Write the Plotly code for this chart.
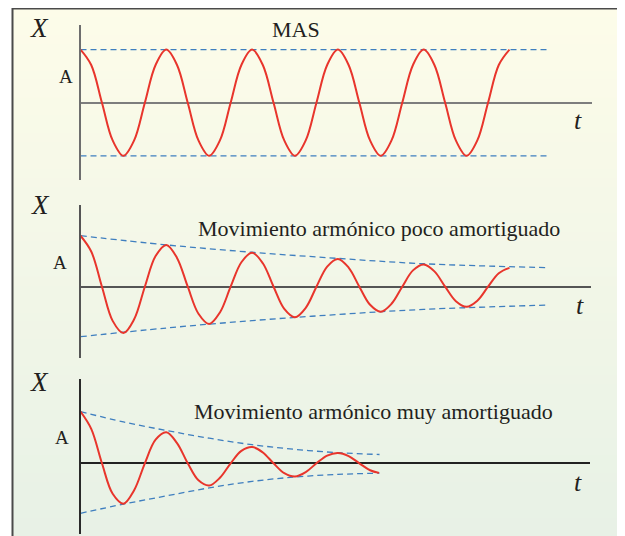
import plotly.graph_objects as go

# The page body has an 8px margin, so the figure is placed at (8, 8) in the window.
PAGE_OFF = 8
W, H = 617, 528

# ---------------- data (t in periods, X in units of A) ----------------
T_MAS = [0, 0.125, 0.25, 0.375, 0.5, 0.625, 0.75, 0.875,
         1, 1.125, 1.25, 1.375, 1.5, 1.625, 1.75, 1.875,
         2, 2.125, 2.25, 2.375, 2.5, 2.625, 2.75, 2.875,
         3, 3.125, 3.25, 3.375, 3.5, 3.625, 3.75, 3.875,
         4, 4.125, 4.25, 4.375, 4.5, 4.625, 4.75, 4.875, 5]
X_MAS = [1, 0.71, 0, -0.71, -1, -0.71, 0, 0.71,
         1, 0.71, 0, -0.71, -1, -0.71, 0, 0.71,
         1, 0.71, 0, -0.71, -1, -0.71, 0, 0.71,
         1, 0.71, 0, -0.71, -1, -0.71, 0, 0.71,
         1, 0.71, 0, -0.71, -1, -0.71, 0, 0.71, 1]
ENV_MAS_T = [0, 5.455]
ENV_MAS_UP = [1, 1]
ENV_MAS_LO = [-1, -1]

T_POCO = T_MAS
X_POCO = [1.0, 0.69, 0, -0.67, -0.91, -0.64, 0, 0.60,
          0.82, 0.565, 0, -0.53, -0.73, -0.505, 0, 0.48,
          0.665, 0.46, 0, -0.435, -0.60, -0.415, 0, 0.395,
          0.545, 0.375, 0, -0.355, -0.49, -0.335, 0, 0.32,
          0.435, 0.30, 0, -0.285, -0.395, -0.275, 0, 0.265, 0.37]
ENV_POCO_T = [0, 1, 2, 3, 4, 5.455]
ENV_POCO_UP = [1.0, 0.82, 0.675, 0.555, 0.45, 0.373]
ENV_POCO_LO = [-0.98, -0.81, -0.665, -0.545, -0.445, -0.36]

T_MUY = [0, 0.125, 0.25, 0.375, 0.5, 0.625, 0.75, 0.875,
         1, 1.125, 1.25, 1.375, 1.5, 1.625, 1.75, 1.875,
         2, 2.125, 2.25, 2.375, 2.5, 2.625, 2.75, 2.875,
         3, 3.125, 3.25, 3.375, 3.48]
X_MUY = [1.0, 0.665, 0, -0.59, -0.78, -0.52, 0, 0.456,
         0.60, 0.39, 0, -0.33, -0.43, -0.28, 0, 0.24,
         0.315, 0.21, 0, -0.19, -0.255, -0.17, 0, 0.15,
         0.20, 0.14, 0, -0.135, -0.185]
ENV_MUY_T = [0, 0.5, 1, 1.5, 2, 2.5, 3, 3.485]
ENV_MUY_UP = [1.0, 0.80, 0.635, 0.485, 0.36, 0.27, 0.205, 0.17]
ENV_MUY_LO = [-0.967, -0.79, -0.63, -0.475, -0.35, -0.265, -0.215, -0.19]

TITLES = ["MAS", "Movimiento armónico poco amortiguado",
          "Movimiento armónico muy amortiguado"]


# ---------------- layout geometry (window pixels) ----------------
def fx(px):
    return (px - PAGE_OFF) / W


def fy(py):
    return 1 - (py - PAGE_OFF) / H


PERIOD_PX = 85.8
ORIGIN_X = 80.5
panels = [
    dict(t=T_MAS, x=X_MAS, et=ENV_MAS_T, eu=ENV_MAS_UP, el=ENV_MAS_LO,
         top=25, bottom=180, zero=102.7, amp=53.15, right=592,
         axcol="#6e6e6e", zcol="#7d7d7d",
         X=(39, 28), A=(66, 77), title=(296, 30), tt=(578, 120)),
    dict(t=T_POCO, x=X_POCO, et=ENV_POCO_T, eu=ENV_POCO_UP, el=ENV_POCO_LO,
         top=205, bottom=358, zero=286.7, amp=51, right=591,
         axcol="#555555", zcol="#555555",
         X=(40, 205), A=(60, 263), title=(379, 228), tt=(580, 305)),
    dict(t=T_MUY, x=X_MUY, et=ENV_MUY_T, eu=ENV_MUY_UP, el=ENV_MUY_LO,
         top=379, bottom=534, zero=463.3, amp=51.7, right=590,
         axcol="#2a2a2a", zcol="#222222",
         X=(39, 382), A=(62, 437), title=(374, 411), tt=(578, 482)),
]

RED = "#e8352c"
BLUE = "#3f7fbf"
TXT = "#231f20"
FONT = "Liberation Serif, Times New Roman, Times, serif"

fig = go.Figure()
layout = dict(width=W, height=H, margin=dict(l=0, r=0, t=0, b=0, pad=0),
              autosize=False, showlegend=False,
              paper_bgcolor="white", plot_bgcolor="rgba(0,0,0,0)")
annotations = []
shapes = []

# background gradient inside frame
top_c = (253, 252, 233)
bot_c = (231, 241, 230)
y0p, y1p = 8, 545
n = 60
for i in range(n):
    a = y0p + (y1p - y0p) * i / n
    b = y0p + (y1p - y0p) * (i + 1) / n
    f = (i + 0.5) / n
    c = tuple(round(top_c[k] + (bot_c[k] - top_c[k]) * f) for k in range(3))
    shapes.append(dict(type="rect", xref="paper", yref="paper", layer="below",
                       x0=fx(12.5), x1=fx(619), y0=fy(b) - 0.002, y1=fy(a),
                       line=dict(width=0), fillcolor="rgb(%d,%d,%d)" % c))
# frame
shapes.append(dict(type="rect", xref="paper", yref="paper", layer="below",
                   x0=fx(12.5), x1=fx(619), y0=fy(560), y1=fy(8.5),
                   line=dict(color="#4a4a4a", width=2), fillcolor="rgba(0,0,0,0)"))

for i, p in enumerate(panels):
    k = "" if i == 0 else str(i + 1)
    xa, ya = "x" + k, "y" + k
    for env in (p["eu"], p["el"]):
        fig.add_trace(go.Scatter(x=p["et"], y=env, mode="lines", xaxis=xa, yaxis=ya,
                                 line=dict(color=BLUE, width=1.3, dash="6px,4px",
                                           shape="spline", smoothing=1.0),
                                 hoverinfo="skip"))
    fig.add_trace(go.Scatter(x=p["t"], y=p["x"], mode="lines", xaxis=xa, yaxis=ya,
                             line=dict(color=RED, width=2, shape="spline", smoothing=1.0),
                             hoverinfo="skip"))
    xr = [0, (p["right"] - ORIGIN_X) / PERIOD_PX]
    yr = [-(p["bottom"] - p["zero"]) / p["amp"], (p["zero"] - p["top"]) / p["amp"]]
    layout["xaxis" + k] = dict(domain=[fx(ORIGIN_X), fx(p["right"])], range=xr,
                               anchor=ya, showline=False, zeroline=False,
                               showgrid=False, showticklabels=False, ticks="",
                               fixedrange=True)
    layout["yaxis" + k] = dict(domain=[fy(p["bottom"]), fy(p["top"])], range=yr,
                               anchor=xa, showline=True, linecolor=p["axcol"],
                               linewidth=1.5, zeroline=True, zerolinecolor=p["zcol"],
                               zerolinewidth=1.6, showgrid=False, showticklabels=False,
                               ticks="", fixedrange=True)

    def ann(txt, pos, size, italic=False):
        annotations.append(dict(text=("<i>%s</i>" % txt) if italic else txt,
                                xref="paper", yref="paper",
                                x=fx(pos[0]), y=fy(pos[1]),
                                xanchor="center", yanchor="middle",
                                showarrow=False,
                                font=dict(family=FONT, size=size, color=TXT)))
    ann("X", p["X"], 27, italic=True)
    ann("A", p["A"], 19)
    ann(TITLES[i], p["title"], 22)
    ann("t", p["tt"], 26, italic=True)

layout["annotations"] = annotations
layout["shapes"] = shapes
fig.update_layout(**layout)
fig.write_html("out.html")
